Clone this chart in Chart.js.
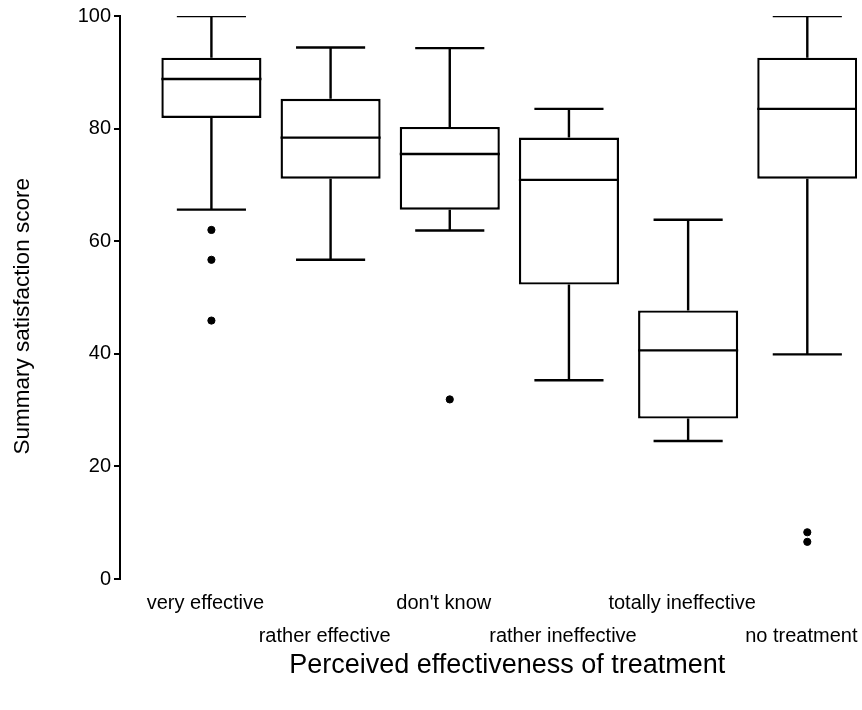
<!DOCTYPE html>
<html>
<head>
<meta charset="utf-8">
<title>Summary satisfaction score by perceived effectiveness</title>
<script src="https://cdn.jsdelivr.net/npm/chart.js@4.4.1/dist/chart.umd.min.js"></script>
<style>
  html, body { margin: 0; padding: 0; background: #fff; }
  #wrap { width: 862px; height: 710px; }
</style>
</head>
<body>
<div id="wrap"><canvas id="boxChart"></canvas></div>
<script>
/* ---------- DATA ---------- */
const categories = ['very effective', 'rather effective', "don't know",
  'rather ineffective', 'totally ineffective', 'no treatment'];
const whiskerLow  = [65.6, 56.7, 61.9, 35.3, 24.5, 39.9];
const q1          = [81.9, 71.1, 65.6, 52.3, 28.5, 71.1];
const median      = [88.8, 78.4, 75.5, 70.9, 40.6, 83.5];
const q3          = [92.6, 85.3, 80.3, 78.4, 47.7, 92.6];
const whiskerHigh = [100, 94.4, 94.3, 83.5, 63.8, 100];
const outliers    = [[62.0, 56.7, 45.9], [], [31.9], [], [], [8.3, 6.6]];
const yTicks      = [0, 20, 40, 60, 80, 100];

const FONT = "'Liberation Sans', Arial, sans-serif";
const INK = '#000';
const CAP = 0.29;        // half width of whisker caps, in category units
const HALF = 0.42;       // half width of the box
const LABEL_SHIFT = 0.05; // category labels sit a little left of the boxes
const LW = 2.4;
const NBSP = '\u00a0';

/* ---------- BUILD SERIES ---------- */
const boxes = categories.map((c, i) => ({ x: i, y: [q1[i], q3[i]] }));

const whiskers = [];
const caps = [];
const medians = [];
categories.forEach((c, i) => {
  whiskers.push({ x: i, y: q3[i] }, { x: i, y: whiskerHigh[i] }, { x: i, y: null },
                { x: i, y: q1[i] }, { x: i, y: whiskerLow[i] }, { x: i, y: null });
  caps.push({ x: i - CAP, y: whiskerHigh[i] }, { x: i + CAP, y: whiskerHigh[i] }, { x: i, y: null },
            { x: i - CAP, y: whiskerLow[i] }, { x: i + CAP, y: whiskerLow[i] }, { x: i, y: null });
  medians.push({ x: i - HALF, y: median[i] }, { x: i + HALF, y: median[i] }, { x: i, y: null });
});
const outlierPts = outliers.flatMap((vals, i) => vals.map(v => ({ x: i, y: v })));

const segment = (data) => ({
  type: 'line',
  data,
  borderColor: INK,
  borderWidth: LW,
  pointRadius: 0,
  fill: false,
  spanGaps: false,
  tension: 0,
  order: 1
});

/* ---------- CHART ---------- */
new Chart(document.getElementById('boxChart'), {
  type: 'bar',
  data: {
    datasets: [
      {
        type: 'bar',
        data: boxes,
        backgroundColor: '#fff',
        borderColor: INK,
        borderWidth: LW,
        borderSkipped: false,
        barPercentage: 0.84,
        categoryPercentage: 1,
        order: 2
      },
      segment(whiskers),
      segment(caps),
      segment(medians),
      {
        type: 'scatter',
        data: outlierPts,
        backgroundColor: INK,
        borderColor: INK,
        pointRadius: 3.6,
        order: 0
      }
    ]
  },
  options: {
    responsive: true,
    maintainAspectRatio: false,
    animation: false,
    devicePixelRatio: 1,
    layout: { padding: { top: 16, left: 0, right: 0, bottom: 0 } },
    plugins: { legend: { display: false }, tooltip: { enabled: false } },
    scales: {
      x: {
        type: 'linear',
        min: -0.767,
        max: 5.417,
        offset: false,
        grid: { display: false, drawTicks: false },
        border: { display: false },
        afterBuildTicks: (axis) => {
          axis.ticks = categories.map((c, i) => ({ value: i - LABEL_SHIFT }));
        },
        afterFit: (axis) => { axis.height = 131; axis.paddingLeft = 0; axis.paddingRight = 0; },
        ticks: {
          color: INK,
          padding: 8,
          maxRotation: 0,
          autoSkip: false,
          font: { family: FONT, size: 20, lineHeight: 1.65 },
          callback: (v, i) => (i % 2 === 0 ? [categories[i], ''] : ['', categories[i]])
        },
        title: {
          display: true,
          // leading no-break spaces nudge the title right, as in the original
          text: NBSP.repeat(5) + 'Perceived effectiveness of treatment',
          color: INK,
          font: { family: FONT, size: 27 },
          padding: { top: 0, bottom: 28 }
        }
      },
      y: {
        min: 0,
        max: 100,
        afterBuildTicks: (axis) => { axis.ticks = yTicks.map(v => ({ value: v })); },
        afterFit: (axis) => { axis.width = 120; },
        grid: { drawOnChartArea: false, drawTicks: true, tickLength: 6, color: INK, lineWidth: 2 },
        border: { display: true, color: INK, width: 2 },
        ticks: {
          color: INK,
          padding: 3,
          font: { family: FONT, size: 20 }
        },
        title: {
          display: true,
          // trailing no-break spaces nudge the rotated title down, as in the original
          text: 'Summary satisfaction score' + NBSP.repeat(6),
          color: INK,
          font: { family: FONT, size: 22.5 },
          padding: { top: 9, bottom: 0 }
        }
      }
    }
  }
});
</script>
</body>
</html>
